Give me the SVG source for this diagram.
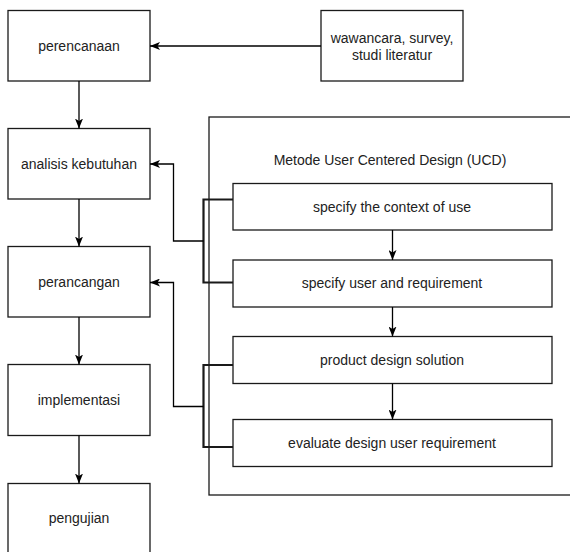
<svg xmlns="http://www.w3.org/2000/svg" width="570" height="552" viewBox="0 0 570 552">
<defs>
<marker id="arr" viewBox="0 0 10 8" refX="10" refY="4" markerWidth="10" markerHeight="8" markerUnits="userSpaceOnUse" orient="auto">
<path d="M0,0 L10,4 L0,8 L2.5,4 Z" fill="#000"/>
</marker>
<style>
.box{fill:#fff;stroke:#1a1a1a;stroke-width:1.3}
.t{font-family:"Liberation Sans",Arial,sans-serif;font-size:14px;fill:#222;text-anchor:middle;dominant-baseline:central}
.c{fill:none;stroke:#000;stroke-width:1.3}
.br{fill:none;stroke:#1a1a1a;stroke-width:2.2}
</style>
</defs>
<rect width="570" height="552" fill="#fff"/>
<g id="ucd">
<rect class="box" x="209" y="117" width="364" height="378"/>
<text class="t" x="390" y="160">Metode User Centered Design (UCD)</text>
</g>
<g id="perencanaan"><rect class="box" x="8" y="10.5" width="142" height="70.5"/><text class="t" x="79" y="45.5">perencanaan</text></g>
<g id="analisis"><rect class="box" x="8" y="128.5" width="142" height="70.5"/><text class="t" x="79" y="164">analisis kebutuhan</text></g>
<g id="perancangan"><rect class="box" x="8" y="246.5" width="142" height="70.5"/><text class="t" x="79" y="282">perancangan</text></g>
<g id="implementasi"><rect class="box" x="8" y="364.5" width="142" height="71"/><text class="t" x="79" y="400">implementasi</text></g>
<g id="pengujian"><rect class="box" x="8" y="483.5" width="142" height="71"/><text class="t" x="79" y="518">pengujian</text></g>
<g id="wawancara"><rect class="box" x="321" y="10.5" width="142" height="70.5"/><text class="t" x="392" y="38">wawancara, survey,</text><text class="t" x="392" y="55">studi literatur</text></g>
<g id="ctx"><rect class="box" x="233" y="183.5" width="319" height="46.5"/><text class="t" x="392" y="206.5">specify the context of use</text></g>
<g id="user"><rect class="box" x="233" y="260" width="319" height="47"/><text class="t" x="392" y="283">specify user and requirement</text></g>
<g id="product"><rect class="box" x="233" y="336.5" width="319" height="47"/><text class="t" x="392" y="359.5">product design solution</text></g>
<g id="evaluate"><rect class="box" x="233" y="419.5" width="319" height="47"/><text class="t" x="392" y="443">evaluate design user requirement</text></g>
<g id="connectors">
<path class="c" d="M79,81 V128.5" marker-end="url(#arr)"/>
<path class="c" d="M79,199 V246.5" marker-end="url(#arr)"/>
<path class="c" d="M79,317 V364.5" marker-end="url(#arr)"/>
<path class="c" d="M79,435.5 V483.5" marker-end="url(#arr)"/>
<path class="c" d="M321,46 H150" marker-end="url(#arr)"/>
<path class="c" d="M392.5,230 V260" marker-end="url(#arr)"/>
<path class="c" d="M392.5,307 V336.5" marker-end="url(#arr)"/>
<path class="c" d="M392.5,383.5 V419.5" marker-end="url(#arr)"/>
<path class="br" d="M233,199.5 H203.5 V282.5 H233"/>
<path class="br" d="M233,365 H203.5 V447 H233"/>
<path class="c" d="M203.5,241 H173.5 V164 H150" marker-end="url(#arr)"/>
<path class="c" d="M203.5,406.5 H173.5 V282.5 H150" marker-end="url(#arr)"/>
</g>
</svg>
